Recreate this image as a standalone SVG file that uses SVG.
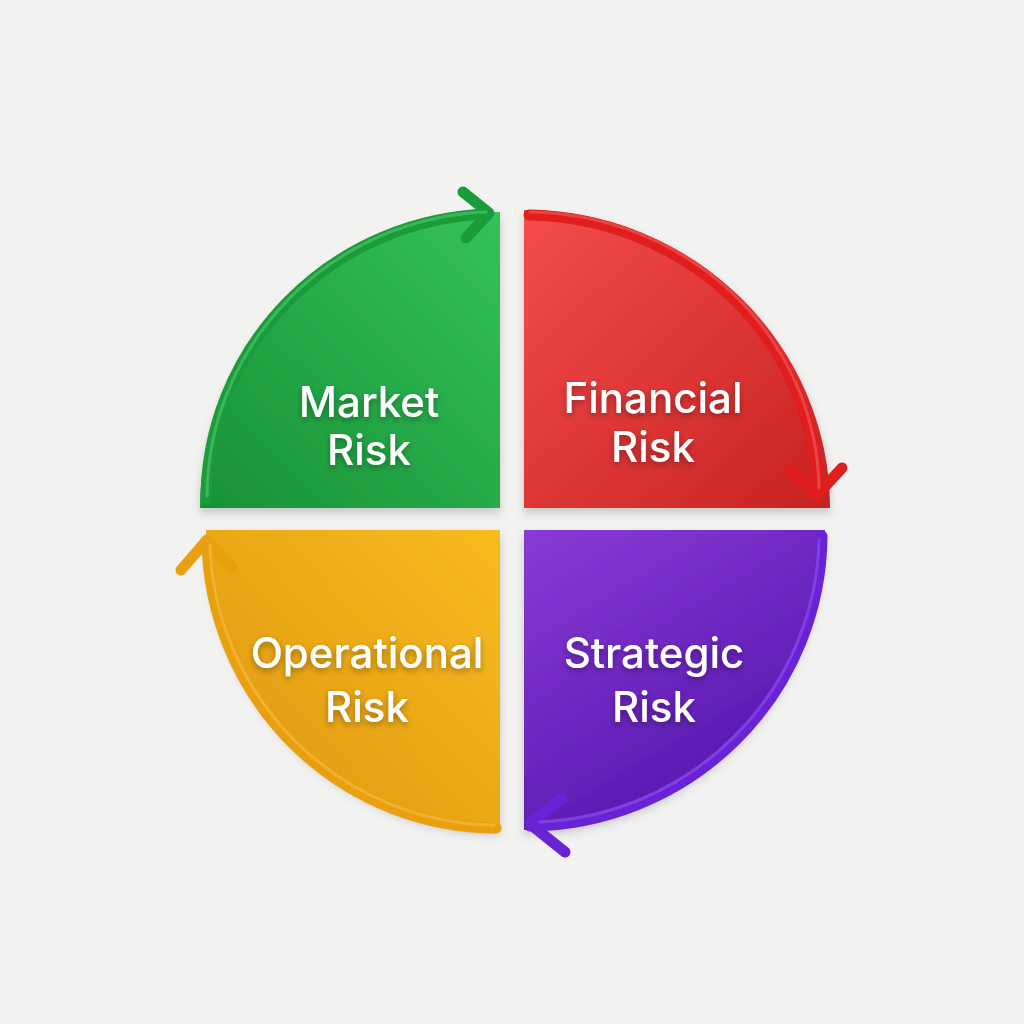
<svg xmlns="http://www.w3.org/2000/svg" width="1024" height="1024" viewBox="0 0 1024 1024">
<defs>
<style>
.lbl{font-family:Inter,"Liberation Sans",sans-serif;font-weight:500;font-size:42px;fill:#ffffff;text-anchor:middle;filter:url(#ts)}
.arw{fill:none;stroke-width:11;stroke-linecap:round;stroke-linejoin:round}
.hl{fill:none;stroke-width:3;stroke-linecap:round;stroke-linejoin:round;opacity:0.35}
</style>
<filter id="ts" x="-20%" y="-40%" width="140%" height="180%"><feDropShadow dx="0" dy="3" stdDeviation="3" flood-color="#000" flood-opacity="0.35"/></filter>
<filter id="sh" x="-10%" y="-10%" width="120%" height="125%"><feDropShadow dx="0" dy="5" stdDeviation="5" flood-color="#000" flood-opacity="0.18"/></filter>
<linearGradient id="gG" x1="1" y1="0" x2="0" y2="1"><stop offset="0" stop-color="#34c25a"/><stop offset="1" stop-color="#189236"/></linearGradient>
<linearGradient id="gR" x1="0" y1="0" x2="1" y2="1"><stop offset="0" stop-color="#f44c4c"/><stop offset="1" stop-color="#c82222"/></linearGradient>
<linearGradient id="gY" x1="1" y1="0" x2="0" y2="1"><stop offset="0" stop-color="#f8bb20"/><stop offset="1" stop-color="#dc960e"/></linearGradient>
<linearGradient id="gP" x1="0" y1="0" x2="0.6" y2="1"><stop offset="0" stop-color="#8a3ad6"/><stop offset="1" stop-color="#5416ac"/></linearGradient>
</defs>
<rect width="1024" height="1024" fill="#f2f2f0"/>
<g id="market">
<path d="M500,508 L200,508 A300,296 0 0 1 500,212 Z" fill="url(#gG)" filter="url(#sh)"/>
<text class="lbl" x="369" y="417">Market</text>
<text class="lbl" x="369" y="465">Risk</text>
</g>
<g id="financial">
<path d="M524,210 A306,298 0 0 1 830,508 L524,508 Z" fill="url(#gR)" filter="url(#sh)"/>
<text class="lbl" x="653" y="413">Financial</text>
<text class="lbl" x="653" y="462">Risk</text>
</g>
<g id="operational">
<path d="M500,530 L206,530 A294,300 0 0 0 500,830 Z" fill="url(#gY)" filter="url(#sh)"/>
<text class="lbl" x="367" y="668">Operational</text>
<text class="lbl" x="367" y="722">Risk</text>
</g>
<g id="strategic">
<path d="M524,530 L825,530 A301,300 0 0 1 524,830 Z" fill="url(#gP)" filter="url(#sh)"/>
<text class="lbl" x="654" y="668">Strategic</text>
<text class="lbl" x="654" y="722">Risk</text>
</g>
<g id="connectors">
<path class="arw" stroke="#1a9c3a" d="M206,500 A292,287 0 0 1 488,214"/>
<path class="arw" stroke="#1a9c3a" d="M463,192 L489,213 L466,238"/>
<path class="hl" stroke="#7ee89a" d="M207,496 A291,286 0 0 1 486,212"/>
<path class="arw" stroke="#e01e1e" d="M529,215 A293,280 0 0 1 817,492"/>
<path class="arw" stroke="#e01e1e" d="M791,470 L817,495 L842,468"/>
<path class="hl" stroke="#ff8a8a" d="M530,212 A293,280 0 0 1 819,488"/>
<path class="arw" stroke="#e8a010" d="M496,828 A290,292 0 0 1 207,540"/>
<path class="arw" stroke="#e8a010" d="M181,570 L207,540 L232,568"/>
<path class="hl" stroke="#ffd56a" d="M494,825 A288,290 0 0 1 210,545"/>
<path class="arw" stroke="#6a22d6" d="M822,536 A296,292 0 0 1 530,826"/>
<path class="arw" stroke="#6a22d6" d="M562,798 L530,824 L565,852"/>
<path class="hl" stroke="#a878f0" d="M819,540 A293,289 0 0 1 540,822"/>
</g>
</svg>
